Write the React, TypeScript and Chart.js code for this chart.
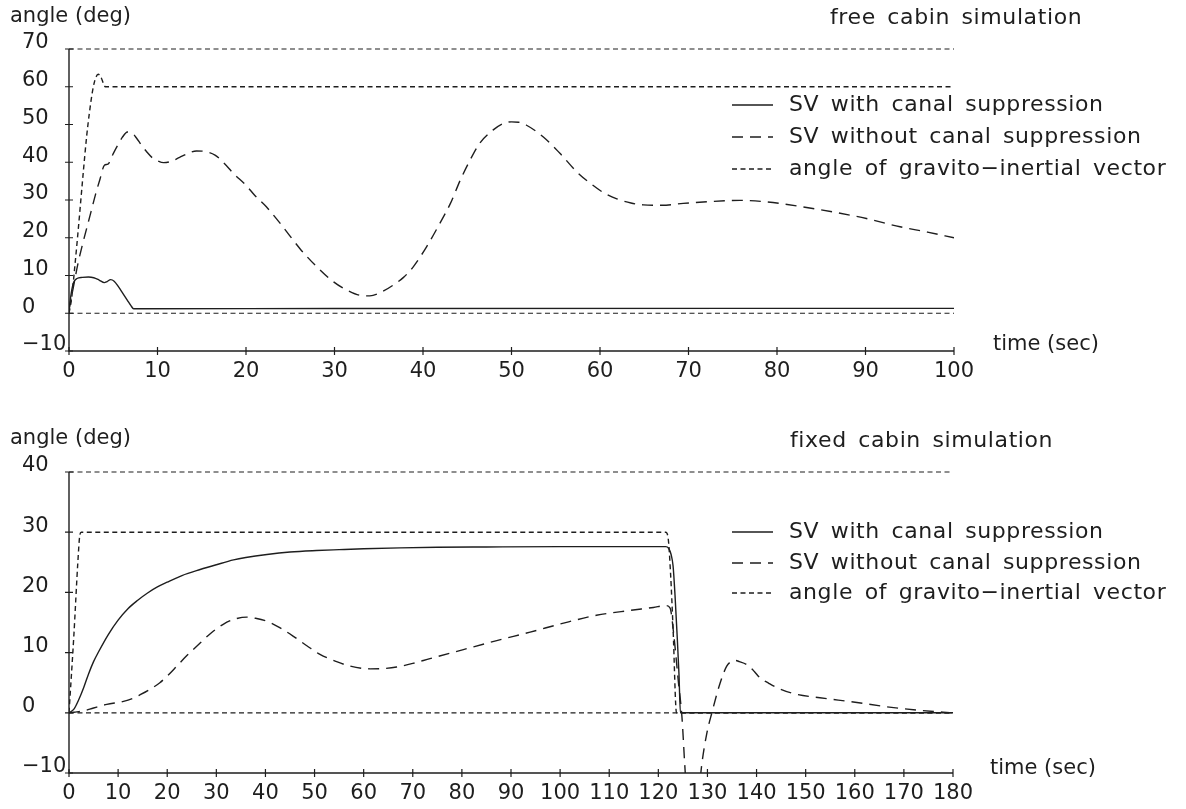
import React, { useEffect, useRef } from 'react';
import { Chart, registerables } from 'chart.js';

Chart.register(...registerables);

// ---------------- data ----------------
const seriesLabels = [
  'SV with canal suppression',
  'SV without canal suppression',
  'angle of gravito\u2212inertial vector',
];
const freeTitle = 'free cabin simulation';
const fixedTitle = 'fixed cabin simulation';
const yAxisTitle = 'angle (deg)';
const xAxisTitle = 'time (sec)';

// free cabin (top panel)
const freeXTicks = [0, 10, 20, 30, 40, 50, 60, 70, 80, 90, 100];
const freeYTicks = [-10, 0, 10, 20, 30, 40, 50, 60, 70];

const freeWithT = [0, 0.2, 0.5, 0.9, 1.5, 2.2, 2.8, 3.4, 4.0, 4.3, 4.7, 5.1, 5.6, 6.1, 6.6, 7.0, 7.3, 30, 100];
const freeWithV = [0.5, 4.5, 8.0, 9.2, 9.5, 9.6, 9.4, 8.8, 8.1, 8.4, 8.9, 8.5, 7.0, 5.2, 3.4, 2.0, 1.2, 1.25, 1.3];

const freeWithoutT = [0, 0.5, 1.0, 1.5, 2.0, 2.5, 3.0, 3.5, 4.0, 4.4, 5.0, 5.5, 6.0, 6.6, 7.1, 7.6, 8.2, 8.8, 9.4, 10.0,
  10.7, 11.5, 12.5, 13.5, 14.4, 15.5, 16.5, 17.5, 18.6, 20.0, 21.0, 22.3, 24.0, 26.1, 28.0, 29.9, 31.5, 33.0, 34.0, 35.2,
  36.6, 37.8, 38.9, 40.4, 41.9, 43.1, 44.2, 45.3, 46.4, 47.9, 49.0, 50.0, 50.8, 51.7, 53.6, 55.5, 57.4, 59.2, 60.5, 61.9,
  63.5, 64.9, 67.0, 69.4, 72.5, 75.8, 78.8, 82.6, 86.4, 90.1, 93.9, 97.0, 100];
const freeWithoutV = [1.0, 7.0, 13.0, 18.0, 22.5, 27.0, 31.5, 35.5, 39.2, 39.5, 42.3, 44.5, 46.5, 48.0, 47.8, 46.5, 44.5, 42.7, 41.2, 40.4,
  39.9, 40.2, 41.3, 42.4, 43.0, 42.8, 41.9, 39.8, 37.0, 33.9, 31.2, 28.2, 23.4, 17.1, 12.3, 8.3, 6.0, 4.7, 4.6, 5.5,
  7.4, 9.5, 12.3, 17.6, 23.8, 29.1, 35.2, 40.5, 45.0, 48.5, 50.2, 50.7, 50.6, 49.8, 46.7, 42.3, 37.4, 33.9, 31.8, 30.3,
  29.2, 28.7, 28.6, 29.1, 29.6, 29.9, 29.5, 28.3, 26.8, 25.1, 22.9, 21.5, 20.0];

const freeGravT = [0, 0.3, 0.6, 1.0, 1.3, 1.6, 2.0, 2.3, 2.6, 2.9, 3.3, 3.6, 3.9, 4.1, 100];
const freeGravV = [0, 4, 11, 21, 29, 37, 47, 53, 58, 61.5, 63.3, 62.6, 60.8, 60, 60];

// fixed cabin (bottom panel)
const fixedXTicks = [0, 10, 20, 30, 40, 50, 60, 70, 80, 90, 100, 110, 120, 130, 140, 150, 160, 170, 180];
const fixedYTicks = [-10, 0, 10, 20, 30, 40];

const fixedWithT = [0, 1, 2, 3, 4, 5, 6, 8, 10, 12, 14, 16, 18, 20, 23, 26.7, 30, 33.5, 36, 40.3,
  45, 50.4, 55, 60, 67.4, 75, 85, 100, 121.5, 122.1, 122.6, 123.0, 123.4, 123.8, 124.2, 124.5, 180];
const fixedWithV = [0, 0.6, 2.2, 4.2, 6.5, 8.5, 10.1, 13.0, 15.4, 17.3, 18.7, 19.9, 20.9, 21.7, 22.8, 23.8, 24.6, 25.4, 25.8, 26.3,
  26.7, 26.95, 27.1, 27.25, 27.4, 27.5, 27.55, 27.6, 27.6, 27.3, 26.3, 24.4, 19.5, 13.3, 6.5, 0, 0];

const fixedWithoutT = [0, 1, 2.9, 5, 7.7, 11.1, 13, 14.5, 16.5, 18.5, 20, 21.9, 24, 26.7, 29, 31.4, 33.5, 36.2, 38, 40.3,
  43, 45.7, 48.5, 51.1, 54.2, 57, 61.3, 64, 66.7, 70, 73.5, 80.3, 87.1, 93.9, 100.7, 107.4, 114.2, 119, 121.5, 122.4,
  123.1, 124.1, 124.8, 125.4, 126, 126.8, 127.6, 128.3, 128.8, 129.9, 130.9, 132.6, 133.9, 135, 135.6, 136.5, 138, 139.5, 140.7, 142.5,
  144.1, 147.5, 152.9, 159.7, 166.5, 173.3, 178, 180];
const fixedWithoutV = [0, 0.1, 0.3, 0.8, 1.4, 1.9, 2.4, 3.0, 3.9, 5.0, 6.1, 7.7, 9.5, 11.6, 13.3, 14.7, 15.5, 15.9, 15.7, 15.2,
  14.1, 12.7, 11.1, 9.7, 8.6, 7.8, 7.3, 7.35, 7.6, 8.2, 9.0, 10.5, 12.0, 13.4, 14.9, 16.2, 17.0, 17.5, 17.8, 17.4,
  13.3, 5.0, -0.6, -8.9, -16, -20, -18, -13, -8.9, -3.3, 0, 5.0, 7.7, 8.6, 8.7, 8.5, 8.0, 6.9, 5.8, 4.9,
  4.2, 3.2, 2.5, 1.8, 1.0, 0.4, 0.1, 0];

const fixedGravT = [0, 1.0, 1.8, 2.2, 2.5, 121.5, 122.0, 122.5, 123.0, 123.7, 180];
const fixedGravV = [0, 13, 25, 29.5, 30, 30, 29, 23, 14, 0, 0];

// ---------------- styling ----------------
const INK = '#1e1e1e';
const FAMILY = '"DejaVu Sans", sans-serif';
const LONG_DASH = [11, 7];
const SHORT_DASH = [5, 3.5];
const DASHES = [[], LONG_DASH, SHORT_DASH];

const toXY = (t: number[], v: number[]) => t.map((x, i) => ({ x, y: v[i] }));

function drawText(ctx: CanvasRenderingContext2D, text: string, x: number, y: number, size: number, ls: number, ws: number) {
  ctx.save();
  ctx.font = `${size}px ${FAMILY}`;
  ctx.fillStyle = INK;
  ctx.textBaseline = 'middle';
  ctx.textAlign = 'left';
  (ctx as any).letterSpacing = `${ls}px`;
  (ctx as any).wordSpacing = `${ws}px`;
  ctx.fillText(text, x, y);
  ctx.restore();
}

type PanelCfg = {
  title: string;
  titleX: number; titleY: number;
  yTitleX: number; yTitleY: number;
  xTitleX: number; xTitleY: number;
  legendX: number; legendLen: number; legendTextX: number; legendY: number[];
};

function makeDecor(cfg: PanelCfg) {
  return {
    id: 'decor',
    beforeDatasetsDraw(chart: any) {
      const { ctx, chartArea: ca, scales } = chart;
      const y = scales.y;
      ctx.save();
      ctx.strokeStyle = INK;
      ctx.lineWidth = 1.2;
      ctx.setLineDash(SHORT_DASH);
      for (const v of [y.max, 0]) {
        const py = y.getPixelForValue(v);
        ctx.beginPath();
        ctx.moveTo(ca.left, py);
        ctx.lineTo(ca.right, py);
        ctx.stroke();
      }
      ctx.restore();
    },
    afterDatasetsDraw(chart: any) {
      const { ctx, chartArea: ca, scales } = chart;
      const x = scales.x;
      const y = scales.y;
      ctx.save();
      ctx.strokeStyle = INK;
      ctx.lineWidth = 1.4;
      ctx.setLineDash([]);
      ctx.beginPath();
      ctx.moveTo(ca.left, ca.top);
      ctx.lineTo(ca.left, ca.bottom);
      ctx.lineTo(ca.right, ca.bottom);
      ctx.stroke();
      ctx.lineWidth = 1.2;
      ctx.beginPath();
      x.ticks.forEach((t: any) => {
        const px = x.getPixelForValue(t.value);
        ctx.moveTo(px, ca.bottom - 4);
        ctx.lineTo(px, ca.bottom + 4);
      });
      y.ticks.forEach((t: any) => {
        const py = y.getPixelForValue(t.value);
        ctx.moveTo(ca.left - 4, py);
        ctx.lineTo(ca.left + 4, py);
      });
      ctx.stroke();
      ctx.restore();

      drawText(ctx, yAxisTitle, cfg.yTitleX, cfg.yTitleY, 21, 0, 0);
      drawText(ctx, cfg.title, cfg.titleX, cfg.titleY, 22, 0.6, 4);
      drawText(ctx, xAxisTitle, cfg.xTitleX, cfg.xTitleY, 21, 0, 0);

      chart.data.datasets.forEach((ds: any, i: number) => {
        const ly = cfg.legendY[i];
        ctx.save();
        ctx.strokeStyle = INK;
        ctx.lineWidth = 1.3;
        ctx.setLineDash(DASHES[i]);
        ctx.beginPath();
        ctx.moveTo(cfg.legendX, ly);
        ctx.lineTo(cfg.legendX + cfg.legendLen, ly);
        ctx.stroke();
        ctx.restore();
        drawText(ctx, ds.label, cfg.legendTextX, ly, 22, 0.6, 4);
      });
    },
  };
}

type ChartSpec = {
  xTicks: number[];
  yTicks: number[];
  series: { x: number; y: number }[][];
  padTop: number;
  padRight: number;
  xAxisH: number;
  decor: PanelCfg;
};

function buildConfig(p: ChartSpec): any {
  const tickFont = { family: FAMILY, size: 21 };
  return {
    type: 'line',
    data: {
      datasets: p.series.map((s, i) => ({
        label: seriesLabels[i],
        data: s,
        borderColor: INK,
        borderWidth: 1.4,
        borderDash: DASHES[i],
        pointRadius: 0,
        fill: false,
        cubicInterpolationMode: 'monotone',
      })),
    },
    options: {
      responsive: false,
      animation: false,
      events: [],
      layout: { padding: { left: 22, top: p.padTop, right: p.padRight, bottom: 0 } },
      plugins: { legend: { display: false }, tooltip: { enabled: false }, title: { display: false } },
      scales: {
        x: {
          type: 'linear',
          min: p.xTicks[0],
          max: p.xTicks[p.xTicks.length - 1],
          afterFit: (s: any) => { s.height = p.xAxisH; },
          afterBuildTicks: (s: any) => { s.ticks = p.xTicks.map((v) => ({ value: v })); },
          grid: { display: false, drawTicks: false, tickLength: 0 },
          border: { display: false },
          ticks: { autoSkip: false, maxRotation: 0, minRotation: 0, padding: 8, color: INK, font: tickFont },
        },
        y: {
          type: 'linear',
          min: p.yTicks[0],
          max: p.yTicks[p.yTicks.length - 1],
          afterFit: (s: any) => { s.width = 47; },
          afterBuildTicks: (s: any) => { s.ticks = p.yTicks.map((v) => ({ value: v })); },
          grid: { display: false, drawTicks: false, tickLength: 0 },
          border: { display: false },
          ticks: {
            crossAlign: 'far',
            labelOffset: -6,
            padding: 0,
            color: INK,
            font: tickFont,
            callback: (v: number) => (v < 0 ? '\u2212' + Math.abs(v) : String(v)),
          },
        },
      },
    },
    plugins: [makeDecor(p.decor)],
  };
}

const W = 1186;
const TOP_H = 400;
const BOT_H = 409;

export default function App() {
  const topRef = useRef<HTMLCanvasElement>(null);
  const botRef = useRef<HTMLCanvasElement>(null);

  useEffect(() => {
    const top = new Chart(topRef.current as HTMLCanvasElement, buildConfig({
      xTicks: freeXTicks,
      yTicks: freeYTicks,
      series: [toXY(freeWithT, freeWithV), toXY(freeWithoutT, freeWithoutV), toXY(freeGravT, freeGravV)],
      padTop: 49,
      padRight: 232,
      xAxisH: 49,
      decor: {
        title: freeTitle, titleX: 830, titleY: 18,
        yTitleX: 10, yTitleY: 17,
        xTitleX: 993, xTitleY: 345,
        legendX: 732, legendLen: 41, legendTextX: 789, legendY: [105, 137, 169],
      },
    }));
    const bot = new Chart(botRef.current as HTMLCanvasElement, buildConfig({
      xTicks: fixedXTicks,
      yTicks: fixedYTicks,
      series: [toXY(fixedWithT, fixedWithV), toXY(fixedWithoutT, fixedWithoutV), toXY(fixedGravT, fixedGravV)],
      padTop: 72,
      padRight: 233,
      xAxisH: 36,
      decor: {
        title: fixedTitle, titleX: 790, titleY: 41,
        yTitleX: 10, yTitleY: 39,
        xTitleX: 990, xTitleY: 369,
        legendX: 732, legendLen: 41, legendTextX: 789, legendY: [132, 163, 193],
      },
    }));
    return () => {
      top.destroy();
      bot.destroy();
    };
  }, []);

  return (
    <div style={{ position: 'absolute', left: 0, top: 0, width: W, height: TOP_H + BOT_H, background: '#fff' }}>
      <canvas ref={topRef} width={W} height={TOP_H} style={{ position: 'absolute', left: 0, top: 0, display: 'block' }} />
      <canvas ref={botRef} width={W} height={BOT_H} style={{ position: 'absolute', left: 0, top: TOP_H, display: 'block' }} />
    </div>
  );
}
